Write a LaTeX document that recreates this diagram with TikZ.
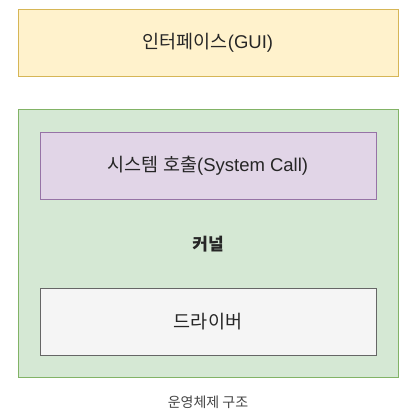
\documentclass[tikz,border=0pt]{standalone}
\usepackage{fontspec}
\setmainfont{Liberation Sans}
\newfontfamily\kr{Noto Sans CJK KR}
\definecolor{yfill}{HTML}{FFF2CC}
\definecolor{ydraw}{HTML}{D6B656}
\definecolor{gfill}{HTML}{D5E8D4}
\definecolor{gdraw}{HTML}{82B366}
\definecolor{pfill}{HTML}{E1D5E7}
\definecolor{pdraw}{HTML}{9673A6}
\definecolor{dfill}{HTML}{F5F5F5}
\definecolor{ddraw}{HTML}{666666}
\definecolor{captxt}{HTML}{444444}
\begin{document}
\begin{tikzpicture}[x=1pt,y=-1pt,
  boxstyle/.style={draw, line width=0.9pt, inner sep=0pt, font=\fontsize{18.5}{21}\selectfont, text=black!85}]
\useasboundingbox[fill=white] (0,0) rectangle (418,414);
\node[boxstyle, fill=yfill, draw=ydraw, minimum width=380pt, minimum height=67pt] (gui) at (208,42.5) {{\kr 인터페이스}(GUI)};
\node[boxstyle, fill=gfill, draw=gdraw, minimum width=380pt, minimum height=268pt] (os) at (208,243.5) {};
\node[boxstyle, fill=pfill, draw=pdraw, minimum width=336pt, minimum height=67pt] (sys) at (208,165.5) {{\kr 시스템 호출}(System Call)};
\node[font=\fontsize{17}{19}\selectfont\kr\bfseries, text=black!85] (kernel) at (208,244) {커널};
\node[boxstyle, fill=dfill, draw=ddraw, minimum width=336pt, minimum height=67pt, font=\fontsize{18.5}{21}\selectfont\kr] (drv) at (208,321.5) {드라이버};
\node[font=\fontsize{14}{16}\selectfont\kr, text=captxt] (cap) at (208,402) {운영체제 구조};
\end{tikzpicture}
\end{document}
